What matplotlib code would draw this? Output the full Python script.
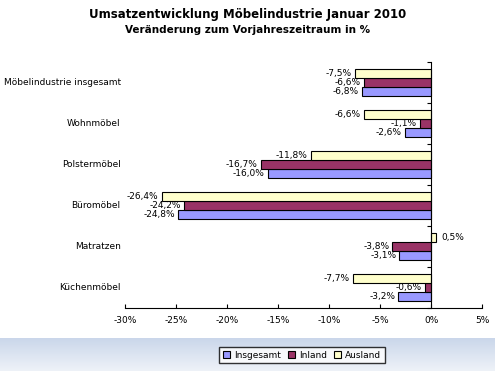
import matplotlib.pyplot as plt
import numpy as np

categories = ["Möbelindustrie insgesamt", "Wohnmöbel", "Polstermöbel",
              "Büromöbel", "Matratzen", "Küchenmöbel"]
insgesamt = [-6.8, -2.6, -16.0, -24.8, -3.1, -3.2]
inland = [-6.6, -1.1, -16.7, -24.2, -3.8, -0.6]
ausland = [-7.5, -6.6, -11.8, -26.4, 0.5, -7.7]
xticks = [-30, -25, -20, -15, -10, -5, 0, 5]

fig = plt.figure(figsize=(4.95, 3.71), dpi=100)

# light blue band at the bottom
bg = fig.add_axes([0, 0, 1, 0.09], zorder=-1)
grad = np.linspace(0, 1, 50).reshape(-1, 1)
bg.imshow(grad, aspect="auto", cmap=plt.matplotlib.colors.LinearSegmentedColormap.from_list(
    "bg", ["#c9d6ea", "#eef2f8"]), extent=[0, 1, 0, 1])
bg.axis("off")

ax = fig.add_axes([0.2525, 0.170, 0.7215, 0.663])

y = np.arange(len(categories))  # 0 at top
h = 0.22
ax.barh(y + h, insgesamt, h, color="#9999ff", edgecolor="black", linewidth=0.8, label="Insgesamt")
ax.barh(y, inland, h, color="#993366", edgecolor="black", linewidth=0.8, label="Inland")
ax.barh(y - h, ausland, h, color="#ffffcc", edgecolor="black", linewidth=0.8, label="Ausland")

def fmt(v):
    return ("%.1f%%" % v).replace(".", ",")

for off, vals in [(h, insgesamt), (0, inland), (-h, ausland)]:
    for yi, v in zip(y, vals):
        if v < 0:
            ax.text(v - 0.3, yi + off, fmt(v), ha="right", va="center", fontsize=6.5)
        else:
            ax.text(v + 0.5, yi + off, fmt(v), ha="left", va="center", fontsize=6.5)

ax.set_xlim(-30, 5)
ax.set_ylim(len(categories) - 0.5, -0.5)
ax.set_xticks(xticks)
ax.set_xticklabels(["%d%%" % t for t in xticks], fontsize=6.5)
ax.set_yticks(np.arange(len(categories) + 1) - 0.5)
ax.set_yticklabels([])
ax.spines["left"].set_position(("data", 0))
ax.spines["top"].set_visible(False)
ax.spines["right"].set_visible(False)
ax.tick_params(axis="x", direction="in", length=3, pad=6)
ax.tick_params(axis="y", direction="out", length=3)

for yi, c in zip(y, categories):
    ax.text(-0.012, yi, c, transform=ax.get_yaxis_transform(), ha="right",
            va="center", fontsize=6.5)

fig.text(0.5, 0.962, "Umsatzentwicklung Möbelindustrie Januar 2010", ha="center",
         va="center", fontsize=8.5, fontweight="bold")
fig.text(0.5, 0.918, "Veränderung zum Vorjahreszeitraum in %", ha="center",
         va="center", fontsize=7.5, fontweight="bold")

fig.legend(loc="center", bbox_to_anchor=(0.61, 0.043), ncol=3, fontsize=6.5,
           frameon=True, fancybox=False, edgecolor="black", handlelength=0.8,
           handleheight=0.8, columnspacing=0.8, handletextpad=0.4,
           borderpad=0.4)

fig.savefig("out.png", dpi=100)
